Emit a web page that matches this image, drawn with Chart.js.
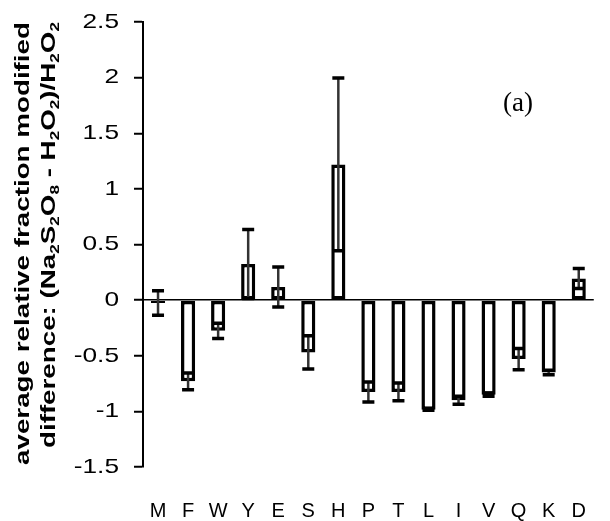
<!DOCTYPE html>
<html>
<head>
<meta charset="utf-8">
<script src="https://cdn.jsdelivr.net/npm/chart.js@4.4.1/dist/chart.umd.min.js"></script>
<style>
  html, body { margin: 0; padding: 0; background: #fff; }
  canvas { display: block; }
</style>
</head>
<body>
<canvas id="chart" width="610" height="521"></canvas>
<script>
// residue categories along the x axis
const residues = ["M", "F", "W", "Y", "E", "S", "H", "P", "T", "L", "I", "V", "Q", "K", "D"];
// average relative difference
const meanDiff = [-0.025, -0.73, -0.276, 0.325, 0.118, -0.47, 1.22, -0.825, -0.825, -0.985, -0.9, -0.85, -0.53, -0.65, 0.195];
// +/- error for each bar
const errDiff = [0.11, 0.075, 0.068, 0.31, 0.18, 0.15, 0.777, 0.09, 0.08, 0.005, 0.035, 0.015, 0.095, 0.02, 0.09];
// y axis ticks
const yTicks = [-1.5, -1, -0.5, 0, 0.5, 1, 1.5, 2, 2.5];

const FONT = "'Liberation Sans', Arial, sans-serif";

// error bars drawn over the bars (stem + two caps)
const errorBars = {
  id: "errorBars",
  afterDatasetsDraw(chart) {
    const ctx = chart.ctx;
    const y = chart.scales.y;
    const meta = chart.getDatasetMeta(0);
    ctx.save();
    meta.data.forEach(function (bar, i) {
      const hi = y.getPixelForValue(meanDiff[i] + errDiff[i]);
      const lo = y.getPixelForValue(meanDiff[i] - errDiff[i]);
      ctx.strokeStyle = "#333";
      ctx.lineWidth = 2.5;
      ctx.beginPath();
      ctx.moveTo(bar.x, hi);
      ctx.lineTo(bar.x, lo);
      ctx.stroke();
      ctx.strokeStyle = "#000";
      ctx.lineWidth = 3.5;
      ctx.beginPath();
      ctx.moveTo(bar.x - 6, hi);
      ctx.lineTo(bar.x + 6, hi);
      ctx.moveTo(bar.x - 6, lo);
      ctx.lineTo(bar.x + 6, lo);
      ctx.stroke();
    });
    ctx.restore();
  }
};

// rotated y title line, squeezed/stretched to a given length; [text, isSubscript]
function drawRotated(ctx, parts, baseX, topY, length, size) {
  ctx.save();
  let total = 0;
  parts.forEach(function (p) {
    ctx.font = "bold " + (p[1] ? size * 0.62 : size) + "px " + FONT;
    total += ctx.measureText(p[0]).width;
  });
  ctx.translate(baseX, topY);
  ctx.rotate(-Math.PI / 2);
  ctx.scale(length / total, 1);
  ctx.fillStyle = "#000";
  ctx.textBaseline = "alphabetic";
  ctx.textAlign = "left";
  let x = -total;
  parts.forEach(function (p) {
    ctx.font = "bold " + (p[1] ? size * 0.62 : size) + "px " + FONT;
    ctx.fillText(p[0], x, p[1] ? 4 : 0);
    x += ctx.measureText(p[0]).width;
  });
  ctx.restore();
}

const titles = {
  id: "titles",
  afterDraw(chart) {
    const ctx = chart.ctx;
    const y = chart.scales.y;
    // y tick labels, a little wider than plain text like the original
    ctx.save();
    ctx.fillStyle = "#000";
    ctx.font = "21px " + FONT;
    ctx.textAlign = "right";
    ctx.textBaseline = "middle";
    yTicks.forEach(function (v) {
      ctx.save();
      ctx.translate(119, y.getPixelForValue(v));
      ctx.scale(1.25, 1);
      ctx.fillText(String(v), 0, 0);
      ctx.restore();
    });
    ctx.restore();

    drawRotated(ctx, [["average relative fraction modified", 0]], 29, 22, 443, 21);
    drawRotated(ctx, [
      ["difference: (Na", 0], ["2", 1], ["S", 0], ["2", 1], ["O", 0], ["8", 1],
      [" - H", 0], ["2", 1], ["O", 0], ["2", 1], [")/H", 0], ["2", 1], ["O", 0], ["2", 1]
    ], 55, 22, 426, 21);

    ctx.save();
    ctx.font = "27px 'Liberation Serif', 'Times New Roman', serif";
    ctx.fillStyle = "#000";
    ctx.textAlign = "center";
    ctx.textBaseline = "middle";
    ctx.fillText("(a)", 518, 104);
    ctx.restore();
  }
};

const ctx = document.getElementById("chart").getContext("2d");
const chart = new Chart(ctx, {
  type: "bar",
  data: {
    labels: residues,
    datasets: [
      {
        data: meanDiff,
        backgroundColor: "#fff",
        borderColor: "#000",
        borderWidth: 3.5,
        borderSkipped: false,
        barPercentage: 0.47,
        categoryPercentage: 1.0,
      },
    ],
  },
  options: {
    responsive: false,
    animation: false,
    devicePixelRatio: 1,
    layout: { padding: { left: 0, right: 1, top: 22, bottom: 0 } },
    plugins: {
      legend: { display: false },
      tooltip: { enabled: false },
    },
    scales: {
      x: {
        grid: { display: false },
        border: { display: false },
        ticks: {
          color: "#000",
          font: { family: FONT, size: 20 },
          padding: 24,
          maxRotation: 0,
          autoSkip: false,
        },
        afterFit(scale) { scale.height = 54; },
      },
      y: {
        min: -1.5,
        max: 2.5,
        afterBuildTicks(scale) {
          scale.ticks = yTicks.map(function (v) { return { value: v }; });
        },
        grid: {
          color: function (c) { return c.tick && c.tick.value === 0 ? "#000" : "rgba(0,0,0,0)"; },
          lineWidth: 1.5,
          tickColor: "#000",
          tickLength: 9,
          tickWidth: 2,
        },
        border: { display: true, color: "#000", width: 2 },
        ticks: { display: false },
        afterFit(scale) { scale.width = 143; },
      },
    },
  },
  plugins: [errorBars, titles],
});
</script>
</body>
</html>
